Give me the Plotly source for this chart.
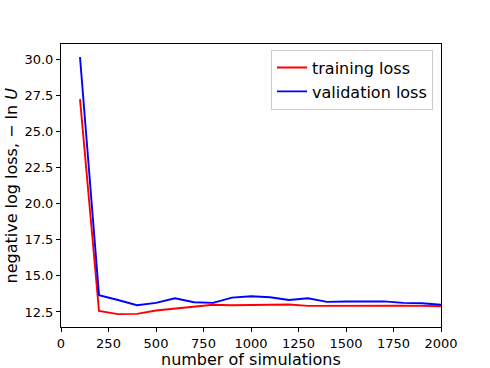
import plotly.graph_objects as go

# number of simulations
n_sims = [100, 200, 300, 400, 500, 600, 700, 800, 900, 1000,
          1100, 1200, 1300, 1400, 1500, 1600, 1700, 1800, 1900, 2000]

training_loss = [27.23, 12.57, 12.35, 12.37, 12.60, 12.73, 12.90, 13.00, 12.97, 12.99,
                 13.03, 13.02, 12.92, 12.93, 12.94, 12.94, 12.93, 12.93, 12.92, 12.90]
validation_loss = [30.14, 13.66, 13.33, 12.97, 13.13, 13.45, 13.17, 13.13, 13.49, 13.59,
                   13.52, 13.33, 13.45, 13.20, 13.22, 13.20, 13.23, 13.13, 13.10, 13.00]

x_ticks = [0, 250, 500, 750, 1000, 1250, 1500, 1750, 2000]
y_ticks = [12.5, 15.0, 17.5, 20.0, 22.5, 25.0, 27.5, 30.0]

fig = go.Figure()
fig.add_trace(go.Scatter(x=n_sims, y=training_loss, mode='lines', name='training loss',
                         line=dict(color='#ff0000', width=1.9)))
fig.add_trace(go.Scatter(x=n_sims, y=validation_loss, mode='lines', name='validation loss',
                         line=dict(color='#0000ff', width=1.9)))

axis_style = dict(showline=True, linecolor='black', linewidth=1, mirror=True,
                  ticks='outside', ticklen=4, tickcolor='black', tickwidth=1,
                  showgrid=False, zeroline=False, automargin=False,
                  tickfont=dict(family='DejaVu Sans', size=13, color='black'))

# axis titles as annotations so they sit exactly where the reference has them
fig.add_annotation(text='number of simulations', xref='paper', yref='paper',
                   x=0.5, y=0, xanchor='center', yanchor='middle', yshift=-32,
                   showarrow=False, font=dict(size=16, family='DejaVu Sans', color='black'))
fig.add_annotation(text='negative log loss, \u2212 ln <i>U</i>', xref='paper', yref='paper',
                   x=0, y=0.5, xanchor='center', yanchor='middle', xshift=-50, textangle=-90,
                   showarrow=False, font=dict(size=16, family='DejaVu Sans', color='black'))

fig.update_layout(
    width=490, height=368,
    margin=dict(l=61, r=49, t=44, b=41),
    paper_bgcolor='white', plot_bgcolor='white',
    font=dict(family='DejaVu Sans', color='black'),
    xaxis=dict(range=[0, 2000], tickvals=x_ticks, **axis_style),
    yaxis=dict(range=[11.46, 31.04], tickvals=y_ticks, tickformat='.1f', **axis_style),
    legend=dict(x=0.979, y=0.98, xanchor='right', yanchor='top',
                bgcolor='rgba(255,255,255,0.8)', bordercolor='#cccccc', borderwidth=1,
                font=dict(size=16, family='DejaVu Sans'), tracegroupgap=0),
    showlegend=True,
)

# drop the default 8px page margin so the figure fills the window
fig.write_html("out.html", config={'displayModeBar': False},
               post_script="document.body.style.margin = '0';")
